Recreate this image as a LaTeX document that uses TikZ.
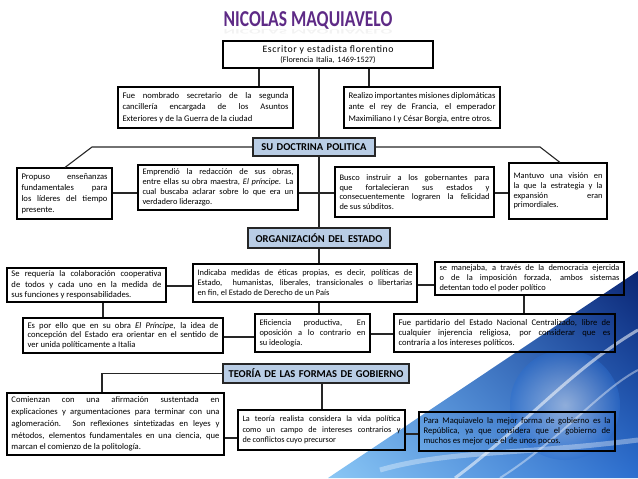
\documentclass[tikz,border=0pt]{standalone}
\usepackage{fontspec}
\setmainfont{Carlito}
\usetikzlibrary{calc,shadings}
\definecolor{headblue}{HTML}{B9CDE5}
\definecolor{titlepurple}{HTML}{5E2A86}
\definecolor{navyb}{HTML}{0A2370}
\definecolor{midb}{HTML}{2C6FD0}
\definecolor{skyb}{HTML}{8CC8F5}
\definecolor{lblue}{HTML}{4A8EE0}
\newcommand\fsz[2]{\fontsize{#1}{#2}\selectfont}
\tikzset{
  box/.style={draw=black, line width=1.1pt, inner xsep=4pt, inner ysep=1pt, font=\fsz{8.6}{10.6}, align=justify},
  head/.style={draw=black!85, fill=headblue, line width=1.1pt, font=\fsz{10.5}{12}\bfseries, align=center},
  con/.style={line width=1.1pt, draw=black!85},
}
\newcommand\bx[7][]{%
  \pgfmathsetmacro\bw{#5-#3}\pgfmathsetmacro\bh{#6-#4}\pgfmathsetmacro\tw{#5-#3-9}%
  \node[box,minimum width=\bw pt,minimum height=\bh pt,text width=\tw pt,#1] (#2) at ({(#3+#5)/2},{(#4+#6)/2}) {#7};}
\begin{document}
\begin{tikzpicture}[x=1pt,y=-1pt]
\useasboundingbox (0,0) rectangle (638,479);
% decorative triangle
\begin{scope}
  \clip (328,478) -- (638,271) -- (638,478) -- cycle;
  \shade[upper right=navyb, lower right=midb, lower left=skyb, upper left=lblue] (325,265) rectangle (638,478);
  \shade[inner color=white, outer color=midb, opacity=0.45] (565,405) circle (55);
  \draw[white, opacity=0.55, line width=3pt] (455,478) .. controls (520,430) and (570,370) .. (638,330);
  \draw[white, opacity=0.4, line width=2pt] (500,478) .. controls (560,440) and (600,390) .. (638,370);
  \draw[white, opacity=0.35, line width=5pt] (380,470) .. controls (450,450) and (520,455) .. (638,440);
\end{scope}
% title
\node[text=gray, opacity=0.1, font=\fsz{17.5}{20}\bfseries] (refl) at (308,31) {\scalebox{1}[-0.4]{NICOLAS MAQUIAVELO}};
\node[text=titlepurple, font=\fsz{17.5}{20}\bfseries] (title) at (308,20.5) {\scalebox{1}[1.3]{NICOLAS MAQUIAVELO}};
% boxes
\bx[align=center]{b1}{223}{41}{433}{68}{{\fsz{9.8}{11}\addfontfeatures{LetterSpace=6}Escritor y estadista florentino}\\[-1pt]{\fsz{8.2}{10}(Florencia Italia, 1469-1527)}}
\bx[font=\fsz{8.6}{11.5}]{fue}{118}{87}{293}{128}{Fue nombrado secretario de la segunda\linebreak cancillería encargada de los Asuntos\linebreak Exteriores y de la Guerra de la ciudad}
\bx[font=\fsz{8.6}{11.5}]{rea}{344}{87}{500}{128}{Realizo importantes misiones diplomáticas\linebreak ante el rey de Francia, el emperador\linebreak Maximiliano I y César Borgia, entre otros.}
\bx[head]{h1}{253}{138}{375}{156}{SU DOCTRINA POLITICA}
\bx[font=\fsz{8.6}{11}]{pro}{17}{168}{112}{219}{Propuso enseñanzas\linebreak fundamentales para\linebreak los líderes del tiempo\linebreak presente.}
\bx[font=\fsz{8.4}{9.8}]{emp}{138}{165}{298}{210}{Emprendió la redacción de sus obras,\linebreak entre ellas su obra maestra, \textit{El príncipe}. La\linebreak cual buscaba aclarar sobre lo que era un\linebreak verdadero liderazgo.}
\bx[font=\fsz{8.4}{9.6}]{bus}{335}{167}{494}{217}{Busco instruir a los gobernantes para\linebreak que fortalecieran sus estados y\linebreak consecuentemente lograren la felicidad\linebreak de sus súbditos.}
\bx[font=\fsz{8.4}{9.8}]{man}{509}{163}{607}{219}{Mantuvo una visión en\linebreak la que la estrategia y la\linebreak expansión eran\linebreak primordiales.}
\bx[head]{h2}{248}{228}{390}{248}{ORGANIZACIÓN DEL ESTADO}
\bx[font=\fsz{8.6}{10.4}]{req}{7}{268}{166}{302}{Se requería la colaboración cooperativa\linebreak de todos y cada uno en la medida de\linebreak sus funciones y responsabilidades.}
\bx[font=\fsz{8.4}{9.8}]{ind}{193}{264}{417}{302}{Indicaba medidas de éticas propias, es decir, políticas de\linebreak Estado,\ \ humanistas, liberales, transicionales o libertarias\linebreak en fin, el Estado de Derecho de un País}
\bx[font=\fsz{8.4}{10}]{mnj}{435}{262}{624}{295}{se manejaba, a través de la democracia ejercida\linebreak o de la imposición forzada, ambos sistemas\linebreak detentan todo el poder político}
\bx[font=\fsz{8.6}{9.6}]{esp}{23}{318}{223}{353}{Es por ello que en su obra \textit{El Príncipe}, la idea de\linebreak concepción del Estado era orientar en el sentido de\linebreak ver unida políticamente a Italia}
\bx[font=\fsz{8.4}{10}]{efi}{255}{314}{370}{352}{Eficiencia productiva, En\linebreak oposición a lo contrario en\linebreak su ideología.}
\bx[font=\fsz{8.6}{10}]{fp}{394}{314}{615}{352}{Fue partidario del Estado Nacional Centralizado, libre de\linebreak cualquier injerencia religiosa, por considerar que es\linebreak contraria a los intereses políticos.}
\bx[head]{h3}{223}{364}{409}{383}{TEORÍA DE LAS FORMAS DE GOBIERNO}
\bx[font=\fsz{8.6}{11.8}]{com}{7}{393}{224}{455}{Comienzan con una afirmación sustentada en\linebreak explicaciones y argumentaciones para terminar con una\linebreak aglomeración. Son reflexiones sintetizadas en leyes y\linebreak métodos, elementos fundamentales en una ciencia, que\linebreak marcan el comienzo de la politología.}
\bx[font=\fsz{8.2}{10.8}]{teo}{238}{410}{405}{450}{La teoría realista considera la vida política\linebreak como un campo de intereses contrarios y\linebreak de conflictos cuyo precursor}
\bx[font=\fsz{8.6}{10}]{para}{419}{412}{615}{451}{Para Maquiavelo la mejor forma de gobierno es la\linebreak República, ya que considera que el gobierno de\linebreak muchos es mejor que el de unos pocos.}
% connectors
\draw[con] (b1.south -| 259,0) -- (fue.north -| 259,0);
\draw[con] (b1.south -| 369,0) -- (rea.north -| 369,0);
\draw[con] (b1.south -| 319,0) -- (h1.north -| 319,0);
\draw[con] (h1.west) -- (92,147) -- (pro.north -| 65,0);
\draw[con] (h1.east) -- (540,147) -- (man.north -| 560,0);
\draw[con] (h1.south -| 319,0) -- (h2.north -| 319,0);
\draw[con] (emp.east |- 0,193) -- (bus.west |- 0,193);
\draw[con] (pro.east |- 0,193) -- (emp.west |- 0,193);
\draw[con] (bus.east |- 0,193) -- (man.west |- 0,193);
\draw[con] (h2.south -| 319,0) -- (ind.north -| 319,0);
\draw[con] (req.east |- 0,286) -- (ind.west |- 0,286);
\draw[con] (ind.east |- 0,285) -- (mnj.west |- 0,285);
\draw[con] (req.south -| 103,0) -- (esp.north -| 103,0);
\draw[con] (ind.south -| 319,0) -- (efi.north -| 319,0);
\draw[con] (esp.east |- 0,337) -- (efi.west |- 0,337);
\draw[con] (efi.east |- 0,334) -- (fp.west |- 0,334);
\draw[con] (mnj.south -| 524,0) -- (fp.north -| 524,0);
\draw[con] (h3.west) -- (102,373.5) -- (com.north -| 102,0);
\draw[con] (h3.south -| 322,0) -- (teo.north -| 322,0);
\draw[con] (com.east |- 0,438) -- (teo.west |- 0,438);
\draw[con] (teo.east |- 0,434) -- (para.west |- 0,434);
\end{tikzpicture}
\end{document}
